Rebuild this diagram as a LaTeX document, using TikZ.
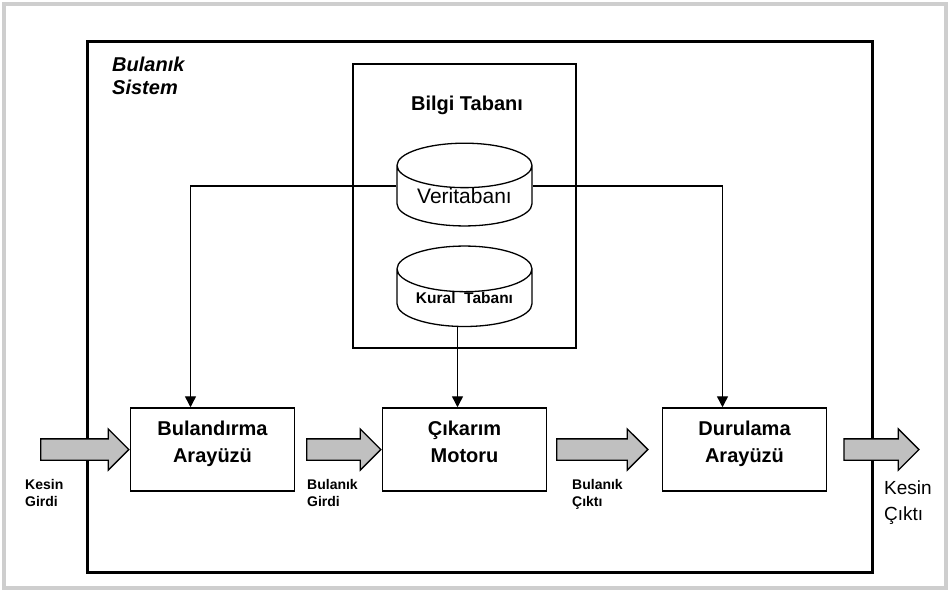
\documentclass[tikz,border=0pt]{standalone}
\usepackage{fontspec}
\setmainfont{Liberation Sans}
\usepackage{tikz}
\usetikzlibrary{shapes.geometric,shapes.arrows,arrows.meta}

\definecolor{framegray}{RGB}{206,206,206}
\definecolor{arrowgray}{RGB}{192,192,192}

\tikzset{
  unit/.style={draw, line width=1.5pt, minimum width=164pt, minimum height=83pt,
    align=center, text depth=16pt, font=\bfseries\fontsize{20}{27}\selectfont},
  db/.style={cylinder, shape border rotate=90, draw, line width=1.3pt, aspect=0.47,
    minimum width=135pt, minimum height=80pt, inner sep=0pt},
  flow/.style={line width=1.4pt, -{Triangle[length=11pt,width=11pt]}},
  fat/.style={single arrow, draw, line width=1.3pt, fill=arrowgray,
    single arrow head extend=10pt, inner sep=10pt},
  tag/.style={align=left, anchor=north west, inner sep=0pt,
    font=\bfseries\fontsize{14}{17}\selectfont}
}

\begin{document}
\begin{tikzpicture}[x=1pt,y=-1pt]
\useasboundingbox (0,0) rectangle (950,592);
      % frames
      \draw[framegray, line width=4pt] (4,4) rectangle (946,588);
      \draw[line width=3pt] (87,41) rectangle (872,572);
      \node[anchor=north west, align=left, inner sep=0pt,
        font=\bfseries\itshape\fontsize{20}{23}\selectfont] (sys) at (112,57) {Bulanık\\Sistem};
      % knowledge base
      \node[draw, line width=1.5pt, minimum width=223pt, minimum height=284pt] (kb) at (464.5,206) {};
      \node[font=\bfseries\fontsize{20}{24}\selectfont] (kbtitle) at (467,105) {Bilgi Tabanı};
      \node[db, font=\fontsize{21}{24}\selectfont] (veri) at (464.5,196) {Veritabanı};
      \node[db, minimum height=78pt, font=\bfseries\fontsize{15.5}{18}\selectfont] (kural) at (464.5,298) {Kural~~Tabanı};
      % blocks
      \node[unit] (bul) at (212.5,449.5) {Bulandırma\\Arayüzü};
      \node[unit] (cik) at (464.5,449.5) {Çıkarım\\Motoru};
      \node[unit] (dur) at (744.5,449.5) {Durulama\\Arayüzü};
      \draw[flow] ([yshift=10pt]veri.west) -| ([xshift=-22pt]bul.north);
      \draw[flow] ([yshift=10pt]veri.east) -| ([xshift=-22pt]dur.north);
      \draw[flow] ([xshift=-7pt]kural.south) -- ([xshift=-7pt]cik.north);
      % fat arrows
      \node[fat, minimum height=88pt, anchor=tip] (a1) at (bul.west) {};
      \node[fat, minimum height=74pt, anchor=tip] (a2) at (cik.west) {};
      \node[fat, minimum height=91pt, anchor=tip] (a3) at ([xshift=-13pt]dur.west) {};
      \node[fat, minimum height=75pt, anchor=tail] (a4) at ([xshift=16pt]dur.east) {};
      \node[tag] (kin) at (25,479) {Kesin\\Girdi};
      \node[tag] (bgir) at (307,479) {Bulanık\\Girdi};
      \node[tag] (bcik) at (572,479) {Bulanık\\Çıktı};
      \node[anchor=north west, align=left, inner sep=0pt,
        font=\fontsize{19}{26}\selectfont] (kout) at (884,481) {Kesin\\Çıktı};
\end{tikzpicture}
\end{document}
